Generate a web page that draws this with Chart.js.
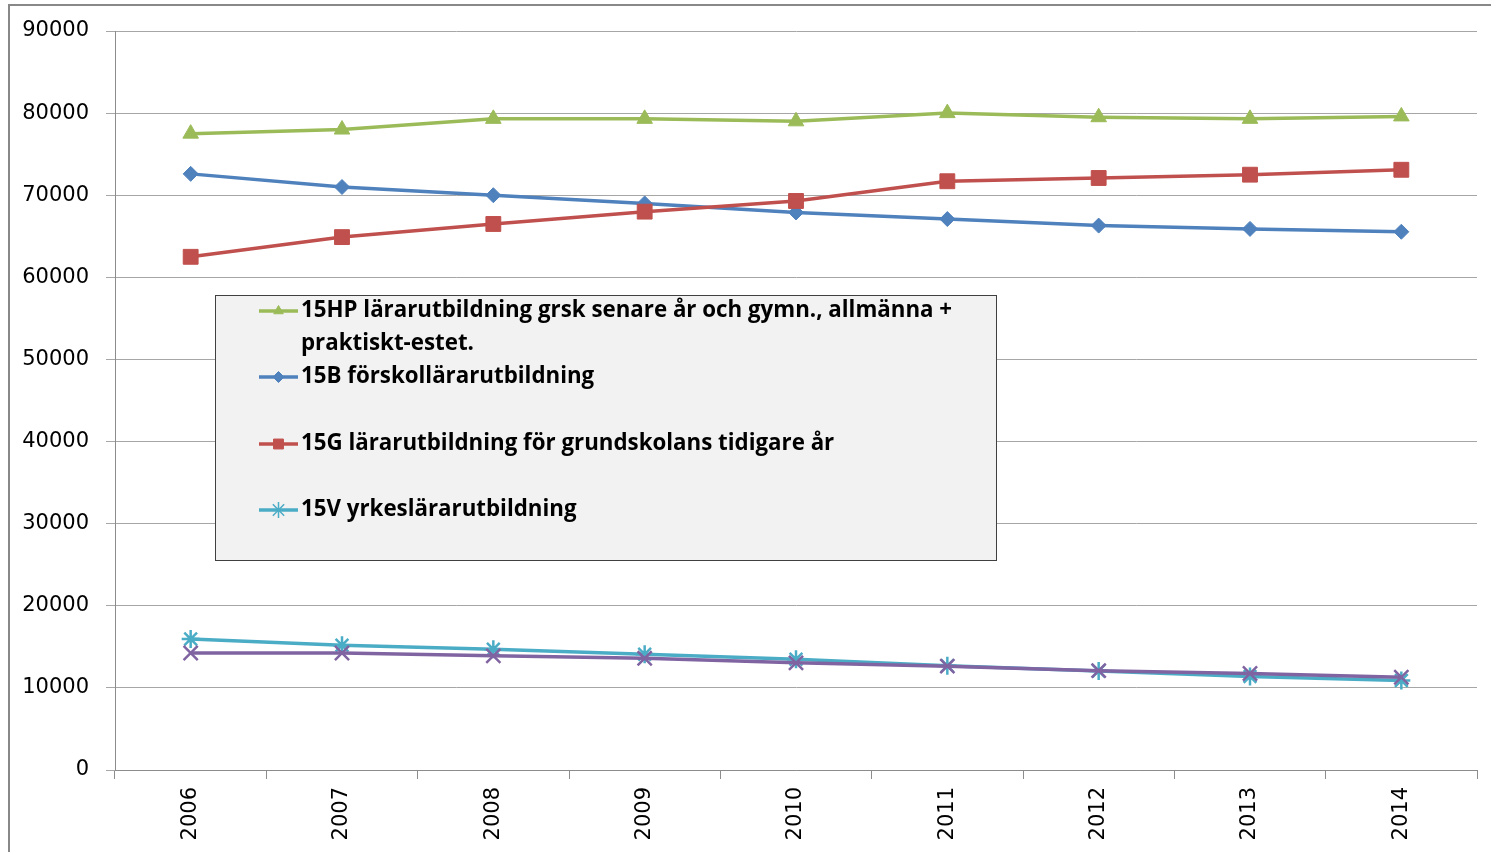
<!DOCTYPE html>
<html>
<head>
<meta charset="utf-8">
<script src="https://cdn.jsdelivr.net/npm/chart.js@4/dist/chart.umd.min.js"></script>
<style>
  html, body { margin: 0; padding: 0; background: #fff; }
  #wrap { position: relative; width: 1491px; height: 852px; }
</style>
</head>
<body>
<div id="wrap"><canvas id="line-chart"></canvas></div>
<script>
const years = ["2006", "2007", "2008", "2009", "2010", "2011", "2012", "2013", "2014"];

const hp15 = [77500, 78000, 79300, 79300, 79000, 80000, 79500, 79300, 79600];
const b15 = [72600, 71000, 70000, 69000, 67900, 67100, 66300, 65900, 65550];
const g15 = [62500, 64900, 66500, 68000, 69300, 71700, 72100, 72500, 73100];
const v15 = [15950, 15200, 14700, 14100, 13500, 12700, 12050, 11400, 10900];
const other = [14250, 14250, 13900, 13600, 13050, 12650, 12100, 11750, 11300];

const yTicks = [0, 10000, 20000, 30000, 40000, 50000, 60000, 70000, 80000, 90000];

// legend entries (the purple series has no entry)
const legendItems = [
  { lines: ["15HP lärarutbildning grsk senare år och gymn., allmänna +", "praktiskt-estet."], color: "#9BBB59", style: "triangle" },
  { lines: ["15B förskollärarutbildning"], color: "#4F81BD", style: "rectRot" },
  { lines: ["15G lärarutbildning för grundskolans tidigare år"], color: "#C0504D", style: "rect" },
  { lines: ["15V yrkeslärarutbildning"], color: "#4BACC6", style: "star" },
];

const frame = {
  id: "frame",
  beforeDraw(chart) {
    const ctx = chart.ctx;
    ctx.save();
    ctx.strokeStyle = "#888888";
    ctx.lineWidth = 2;
    ctx.beginPath();
    ctx.moveTo(9, 852);
    ctx.lineTo(9, 5);
    ctx.lineTo(1491, 5);
    ctx.stroke();
    ctx.restore();
  }
};

const boxLegend = {
  id: "boxLegend",
  afterDraw(chart) {
    const ctx = chart.ctx;
    ctx.save();
    ctx.fillStyle = "#F2F2F2";
    ctx.fillRect(215, 295, 781, 265);
    ctx.strokeStyle = "#404040";
    ctx.lineWidth = 1;
    ctx.strokeRect(215.5, 295.5, 781, 265);

    const rows = [311, 377, 444, 510];
    ctx.font = "bold 22.3px 'Open Sans'";
    ctx.textBaseline = "middle";
    legendItems.forEach((item, i) => {
      const y = rows[i];
      ctx.strokeStyle = item.color;
      ctx.lineWidth = 3.5;
      ctx.beginPath();
      ctx.moveTo(259, y);
      ctx.lineTo(298, y);
      ctx.stroke();
      ctx.fillStyle = item.color;
      const bw = item.style === "star" ? 1.5 : 1;
      ctx.lineWidth = bw;
      Chart.helpers.drawPoint(ctx, {
        pointStyle: item.style,
        radius: item.style === "rect" ? 7 : (item.style === "star" ? 8 : 5.5),
        rotation: 0,
        borderWidth: bw
      }, 278.5, y);
      ctx.fillStyle = "#000";
      item.lines.forEach((t, k) => ctx.fillText(t, 301, y + k * 33));
    });
    ctx.restore();
  }
};

function series(label, data, color, style, radius, pbw) {
  return {
    label: label,
    data: data,
    borderColor: color,
    backgroundColor: color,
    borderWidth: 3.5,
    pointStyle: style,
    pointRadius: radius,
    pointHoverRadius: radius,
    pointBorderWidth: pbw,
    pointBackgroundColor: color,
    pointBorderColor: color,
    tension: 0,
  };
}

const config = {
  type: "line",
  data: {
    labels: years,
    datasets: [
      series("15HP", hp15, "#9BBB59", "triangle", 9, 1),
      series("15G", g15, "#C0504D", "rect", 10.5, 1),
      series("15B", b15, "#4F81BD", "rectRot", 7.5, 1),
      series("övrigt", other, "#8064A2", "crossRot", 10, 2.5),
      series("15V", v15, "#4BACC6", "star", 9, 2.5),
    ],
  },
  options: {
    responsive: false,
    animation: false,
    layout: { padding: { left: 0, top: 31, right: 14, bottom: 0 } },
    plugins: {
      legend: { display: false },
      tooltip: { enabled: false },
      title: { display: false },
    },
    scales: {
      x: {
        offset: true,
        grid: { offset: true, drawOnChartArea: false, drawTicks: true, tickLength: 9, color: "#8c8c8c" },
        border: { color: "#8c8c8c", width: 1 },
        ticks: { minRotation: 90, maxRotation: 90, padding: 8, color: "#000", font: { family: "DejaVu Sans", size: 21 } },
        afterFit(scale) { scale.height = 82; },
      },
      y: {
        min: 0,
        max: 90000,
        afterBuildTicks(scale) { scale.ticks = yTicks.map(v => ({ value: v })); },
        grid: { color: "#a6a6a6", tickLength: 9, drawTicks: true },
        border: { color: "#8c8c8c", width: 1 },
        ticks: {
          padding: 17, color: "#000", font: { family: "DejaVu Sans", size: 21 },
          callback: (v) => String(v),
        },
        afterFit(scale) { scale.width = 115; },
      },
    },
  },
  plugins: [frame, boxLegend],
};

const canvas = document.getElementById("line-chart");
canvas.width = 1491;
canvas.height = 852;
new Chart(canvas.getContext("2d"), config);
</script>
</body>
</html>
